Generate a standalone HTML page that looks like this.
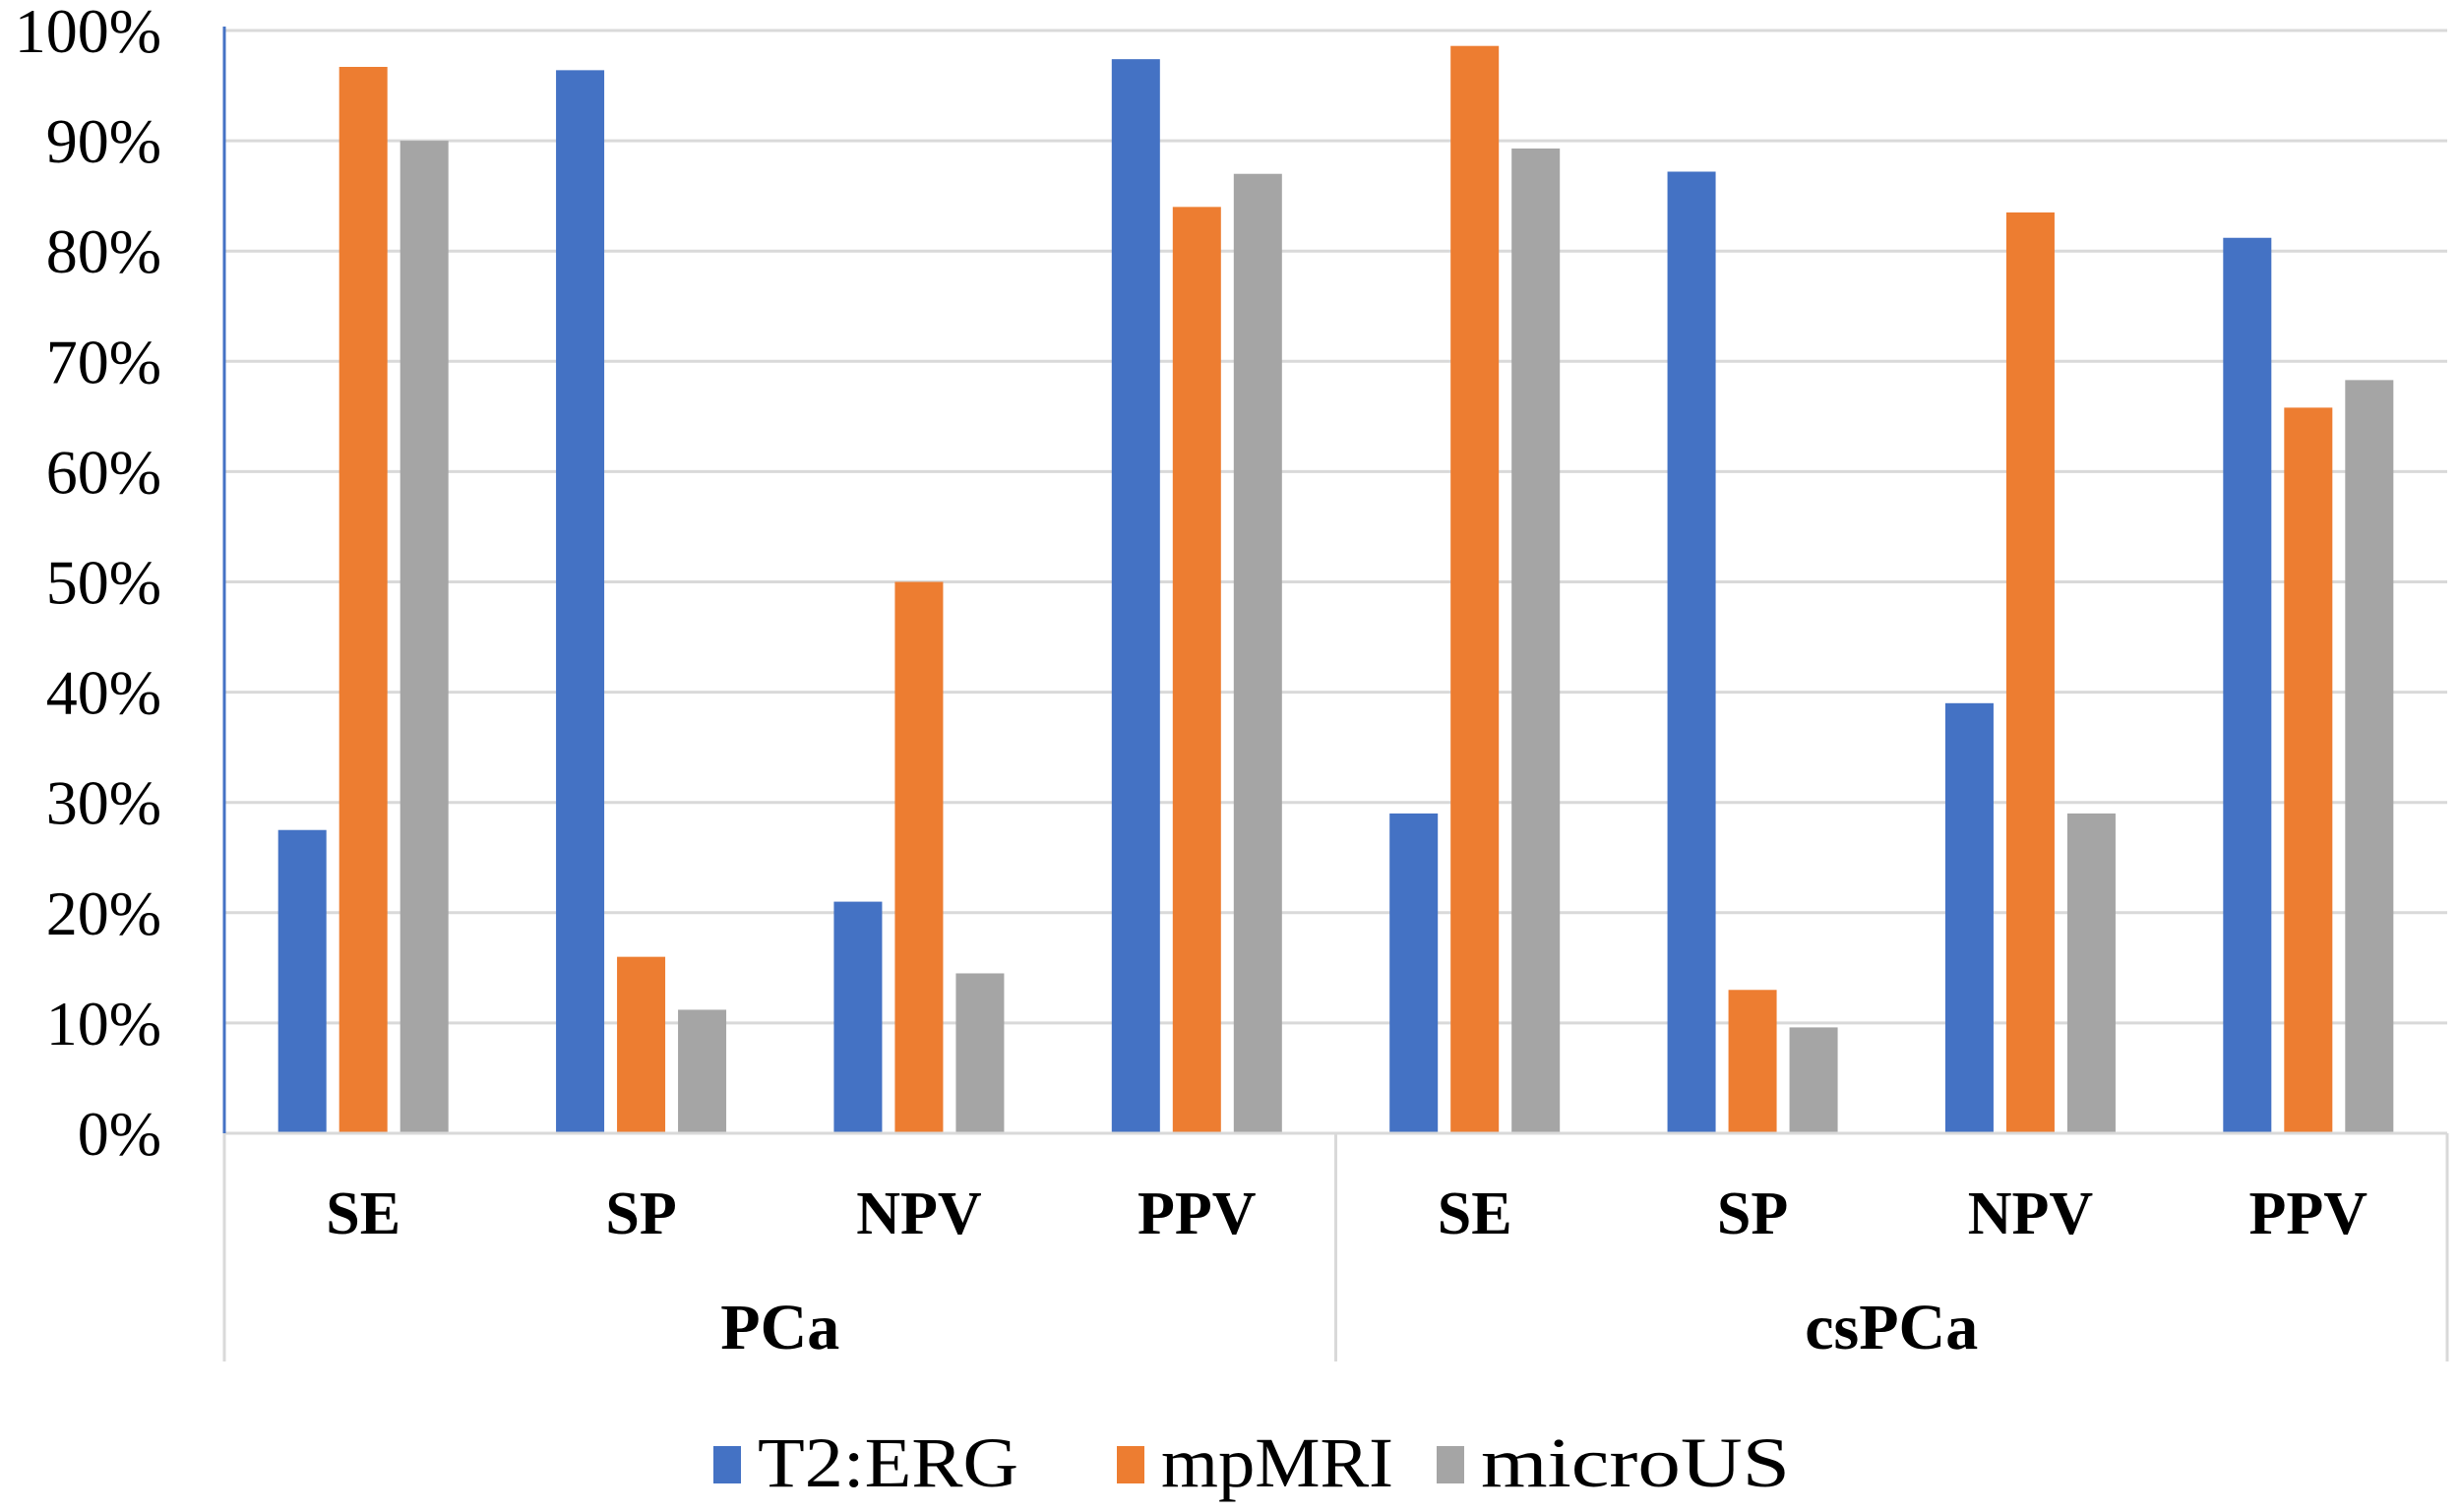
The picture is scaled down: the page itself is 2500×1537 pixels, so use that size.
<!DOCTYPE html>
<html><head><meta charset="utf-8"><style>
html,body{margin:0;padding:0;background:#fff}
svg{display:block}
text{font-family:"Liberation Serif",serif;fill:#000}
</style></head><body>
<svg id="chart" width="2500" height="1537" viewBox="0 0 2500 1537" xmlns="http://www.w3.org/2000/svg">
<g id="grid"></g>
<g id="yticks"></g>
<g id="bars"></g>
<g id="xaxis"></g>
<g id="legend"></g>
</svg>
<script>
const groups = ["PCa", "csPCa"];
const metrics = ["SE", "SP", "NPV", "PPV"];
const seriesNames = ["T2:ERG", "mpMRI", "microUS"];
const t2erg = [27.5, 96.4, 21, 97.4, 29, 87.2, 39, 81.2];
const mpmri = [96.7, 16, 50, 84, 98.6, 13, 83.5, 65.8];
const microus = [90, 11.2, 14.5, 87, 89.3, 9.6, 29, 68.3];
const yTicks = [0, 10, 20, 30, 40, 50, 60, 70, 80, 90, 100];

const colors = ["#4472c4", "#ed7d31", "#a5a5a5"];
const seriesVals = [t2erg, mpmri, microus];
const L = 228, R = 2487, T = 31, B = 1152;
const ns = "http://www.w3.org/2000/svg";
const nCat = groups.length * metrics.length;
const step = (R - L) / nCat;
function y(v) { return B - (B - T) * v / 100; }
function x(i) { return L + step * (i + 0.5); }
function mk(tag, attrs, parent) {
  const e = document.createElementNS(ns, tag);
  for (const k in attrs) e.setAttribute(k, attrs[k]);
  parent.appendChild(e);
  return e;
}
const grid = document.getElementById('grid');
const yt = document.getElementById('yticks');
yTicks.forEach(v => {
  const ln = mk('line', {x1: L, x2: R, y1: y(v), y2: y(v), stroke: '#d9d9d9', 'stroke-width': 3}, grid);
  
  
  const t = mk('text', {x: 164, y: y(v) + 22, 'text-anchor': 'end', 'font-size': 64}, yt);
  t.textContent = v + '%';
  
  
});
const bars = document.getElementById('bars');
const bw = 49, gap = 13;
for (let i = 0; i < nCat; i++) {
  for (let s = 0; s < 3; s++) {
    const v = seriesVals[s][i];
    const cx = x(i) + (s - 1) * (bw + gap);
    const r = mk('rect', {x: cx - bw / 2, y: y(v), width: bw, height: B - y(v), fill: colors[s]}, bars);
    
    
  }
}
const xa = document.getElementById('xaxis');
const base = mk('line', {x1: L, x2: R, y1: B, y2: B, stroke: '#d9d9d9', 'stroke-width': 3}, xa);


const yl = mk('line', {x1: L, x2: L, y1: T - 4, y2: B, stroke: '#4472c4', 'stroke-width': 3}, xa);


[L, L + step * 4, R].forEach((xx, k) => {
  const d = mk('line', {x1: xx, x2: xx, y1: B, y2: 1384, stroke: '#d9d9d9', 'stroke-width': 3}, xa);
  
  
});
for (let i = 0; i < nCat; i++) {
  const t = mk('text', {x: x(i), y: 1254, 'text-anchor': 'middle', 'font-size': 62, 'font-weight': 'bold'}, xa);
  t.textContent = metrics[i % 4];
  
  
}
groups.forEach((g, k) => {
  const t = mk('text', {x: L + step * (4 * k + 2), y: 1371, 'text-anchor': 'middle', 'font-size': 66, 'font-weight': 'bold'}, xa);
  t.textContent = g;
  
  
});
const lg = document.getElementById('legend');
const lx = [725, 1135, 1460];
const lw = [265, 236, 314];
seriesNames.forEach((n, s) => {
  const r = mk('rect', {x: lx[s], y: 1470, width: 28, height: 38, fill: colors[s]}, lg);
  
  
  const t = mk('text', {x: lx[s] + 45, y: 1511, 'font-size': 72, textLength: lw[s], lengthAdjust: 'spacingAndGlyphs'}, lg);
  t.textContent = n;
  
  
});
</script>
</body></html>
